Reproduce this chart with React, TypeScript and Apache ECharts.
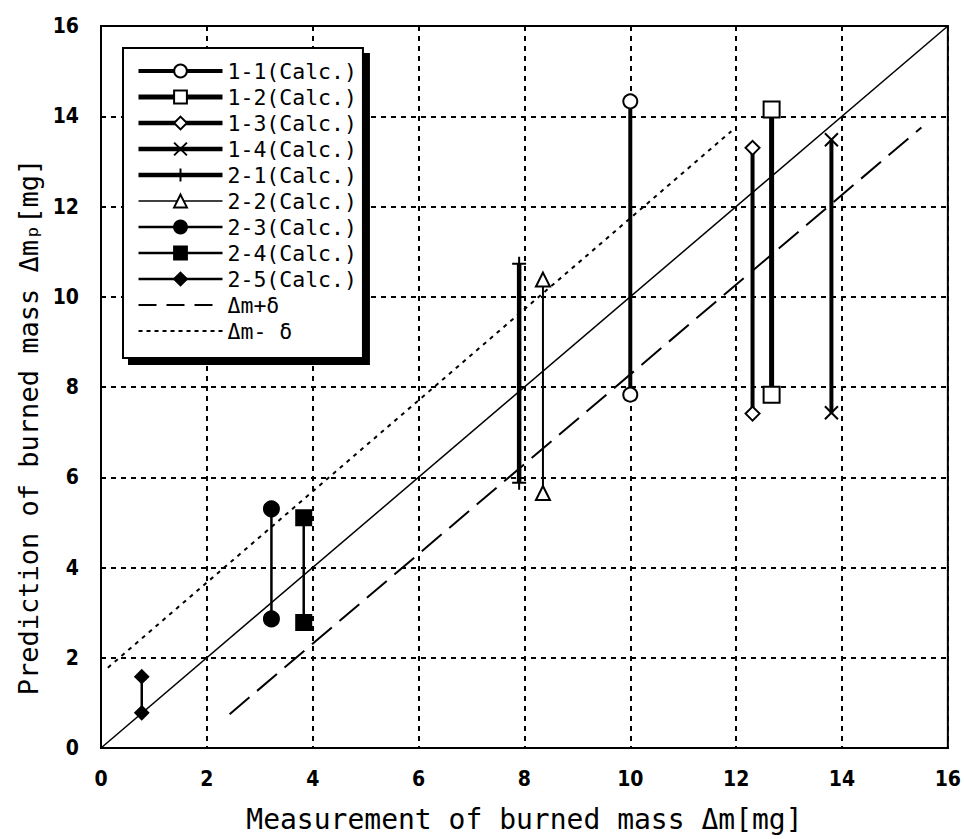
import React, { useEffect, useRef } from "react";
import * as echarts from "echarts";

const seriesNames = [
  "1-1(Calc.)",
  "1-2(Calc.)",
  "1-3(Calc.)",
  "1-4(Calc.)",
  "2-1(Calc.)",
  "2-2(Calc.)",
  "2-3(Calc.)",
  "2-4(Calc.)",
  "2-5(Calc.)",
];
const measX = [10.0, 12.67, 12.31, 13.8, 7.9, 8.35, 3.22, 3.83, 0.77];
const predTop = [14.33, 14.15, 13.3, 13.48, 10.73, 10.38, 5.3, 5.1, 1.58];
const predBottom = [7.83, 7.83, 7.41, 7.43, 5.88, 5.65, 2.86, 2.78, 0.78];

const plusName = "Δm+δ";
const minusName = "Δm- δ";
const plusLineX = [2.43, 15.5];
const plusLineY = [0.75, 13.75];
const minusLineX = [0.13, 11.91];
const minusLineY = [1.78, 13.67];
const diagX = [0, 16];
const diagY = [0, 16];

const axisTicks = [0, 2, 4, 6, 8, 10, 12, 14, 16];

const xPath = "path://M0,0L10,10M10,0L0,10";
const plusPath = "path://M5,0L5,10M0,5L10,5";

const symbols = [
  { symbol: "circle", size: 14, fill: "#fff", lw: 4, legendLw: 4 },
  { symbol: "rect", size: 16, fill: "#fff", lw: 5, legendLw: 5 },
  { symbol: "diamond", size: 14, fill: "#fff", lw: 4, legendLw: 4.5 },
  { symbol: xPath, size: 13, fill: "none", lw: 4, legendLw: 4.5 },
  { symbol: plusPath, size: 14, fill: "none", lw: 4.5, legendLw: 4.5 },
  { symbol: "triangle", size: 14, fill: "#fff", lw: 2, legendLw: 1.5 },
  { symbol: "circle", size: 15, fill: "#000", lw: 2.5, legendLw: 2.5 },
  { symbol: "rect", size: 15, fill: "#000", lw: 2.5, legendLw: 2.5 },
  { symbol: "diamond", size: 13, fill: "#000", lw: 2.5, legendLw: 2.5 },
];

const mono = "'DejaVu Sans Mono', 'Liberation Mono', monospace";
const tickFont = "'DejaVu Sans Condensed', 'Liberation Sans Narrow', 'DejaVu Sans', sans-serif";

export default function App() {
  const ref = useRef<HTMLDivElement>(null);
  useEffect(() => {
    if (!ref.current) return;
    const chart = echarts.init(ref.current, undefined, { renderer: "svg" });
    const series: any[] = seriesNames.map((name, i) => {
      const s = symbols[i];
      return {
        name,
        type: "line",
        data: [
          [measX[i], predTop[i]],
          [measX[i], predBottom[i]],
        ],
        symbol: s.symbol,
        symbolSize: s.size,
        showSymbol: true,
        lineStyle: { color: "#000", width: s.lw },
        itemStyle: {
          color: s.fill,
          borderColor: "#000",
          borderWidth: 2,
        },
        z: 5,
      };
    });
    series.push({
      name: plusName,
      type: "line",
      data: plusLineX.map((x, i) => [x, plusLineY[i]]),
      symbol: "none",
      lineStyle: { color: "#000", width: 2, type: [26, 10] },
      itemStyle: { color: "#000" },
    });
    series.push({
      name: minusName,
      type: "line",
      data: minusLineX.map((x, i) => [x, minusLineY[i]]),
      symbol: "none",
      lineStyle: { color: "#000", width: 2, type: [4, 5] },
      itemStyle: { color: "#000" },
    });
    series.push({
      name: "diag",
      type: "line",
      data: diagX.map((x, i) => [x, diagY[i]]),
      symbol: "none",
      lineStyle: { color: "#000", width: 1.5 },
    });

    const legendData: any[] = seriesNames.map((name, i) => ({
      name,
      lineStyle: { width: symbols[i].legendLw, color: "#000" },
    }));
    legendData.push({
      name: plusName,
      lineStyle: { width: 2, color: "#000", type: [18, 10] },
      itemStyle: { color: "rgba(0,0,0,0)", borderColor: "rgba(0,0,0,0)", borderWidth: 0 },
    });
    legendData.push({
      name: minusName,
      lineStyle: { width: 2, color: "#000", type: [4, 4] },
      itemStyle: { color: "rgba(0,0,0,0)", borderColor: "rgba(0,0,0,0)", borderWidth: 0 },
    });

    const axisCommon = {
      type: "value",
      min: axisTicks[0],
      max: axisTicks[axisTicks.length - 1],
      interval: 2,
      axisLine: { show: true, lineStyle: { color: "#000", width: 2 } },
      axisTick: { show: false },
      splitLine: { show: true, lineStyle: { color: "#000", width: 2, type: [5, 5] } },
    };

    chart.setOption({
      animation: false,
      backgroundColor: "#fff",
      grid: {
        left: 101,
        right: 14,
        top: 26,
        bottom: 91,
        show: true,
        borderColor: "#000",
        borderWidth: 2,
        backgroundColor: "transparent",
      },
      xAxis: {
        ...axisCommon,
        name: "Measurement of burned mass Δm[mg]",
        nameLocation: "middle",
        nameGap: 57,
        nameTextStyle: { fontFamily: mono, fontSize: 28, color: "#000" },
        axisLabel: {
          margin: 20,
          fontFamily: tickFont,
          fontWeight: "bold",
          fontSize: 21,
          color: "#000",
        },
      },
      yAxis: {
        ...axisCommon,
        name: "Prediction of burned mass Δmₚ[mg]",
        nameLocation: "middle",
        nameGap: 42,
        nameRotate: 90,
        nameTextStyle: {
          fontFamily: mono,
          fontSize: 27,
          color: "#000",
          padding: [0, 80, 0, 0],
        },
        axisLabel: {
          margin: 22,
          fontFamily: tickFont,
          fontWeight: "bold",
          fontSize: 21,
          color: "#000",
        },
      },
      legend: {
        data: legendData,
        orient: "vertical",
        left: 123,
        top: 48,
        itemWidth: 84,
        itemHeight: 16,
        itemGap: 4,
        padding: [12, 6, 16, 13],
        backgroundColor: "#fff",
        borderColor: "#000",
        borderWidth: 2,
        borderRadius: 0,
        shadowColor: "#000",
        shadowBlur: 0,
        shadowOffsetX: 6,
        shadowOffsetY: 6,
        textStyle: { fontFamily: mono, fontSize: 21.5, color: "#000" },
        selectedMode: false,
      },
      series,
    });
    return () => chart.dispose();
  }, []);
  return (
    <div
      ref={ref}
      style={{ position: "fixed", left: 0, top: 0, width: 964, height: 839 }}
    />
  );
}
